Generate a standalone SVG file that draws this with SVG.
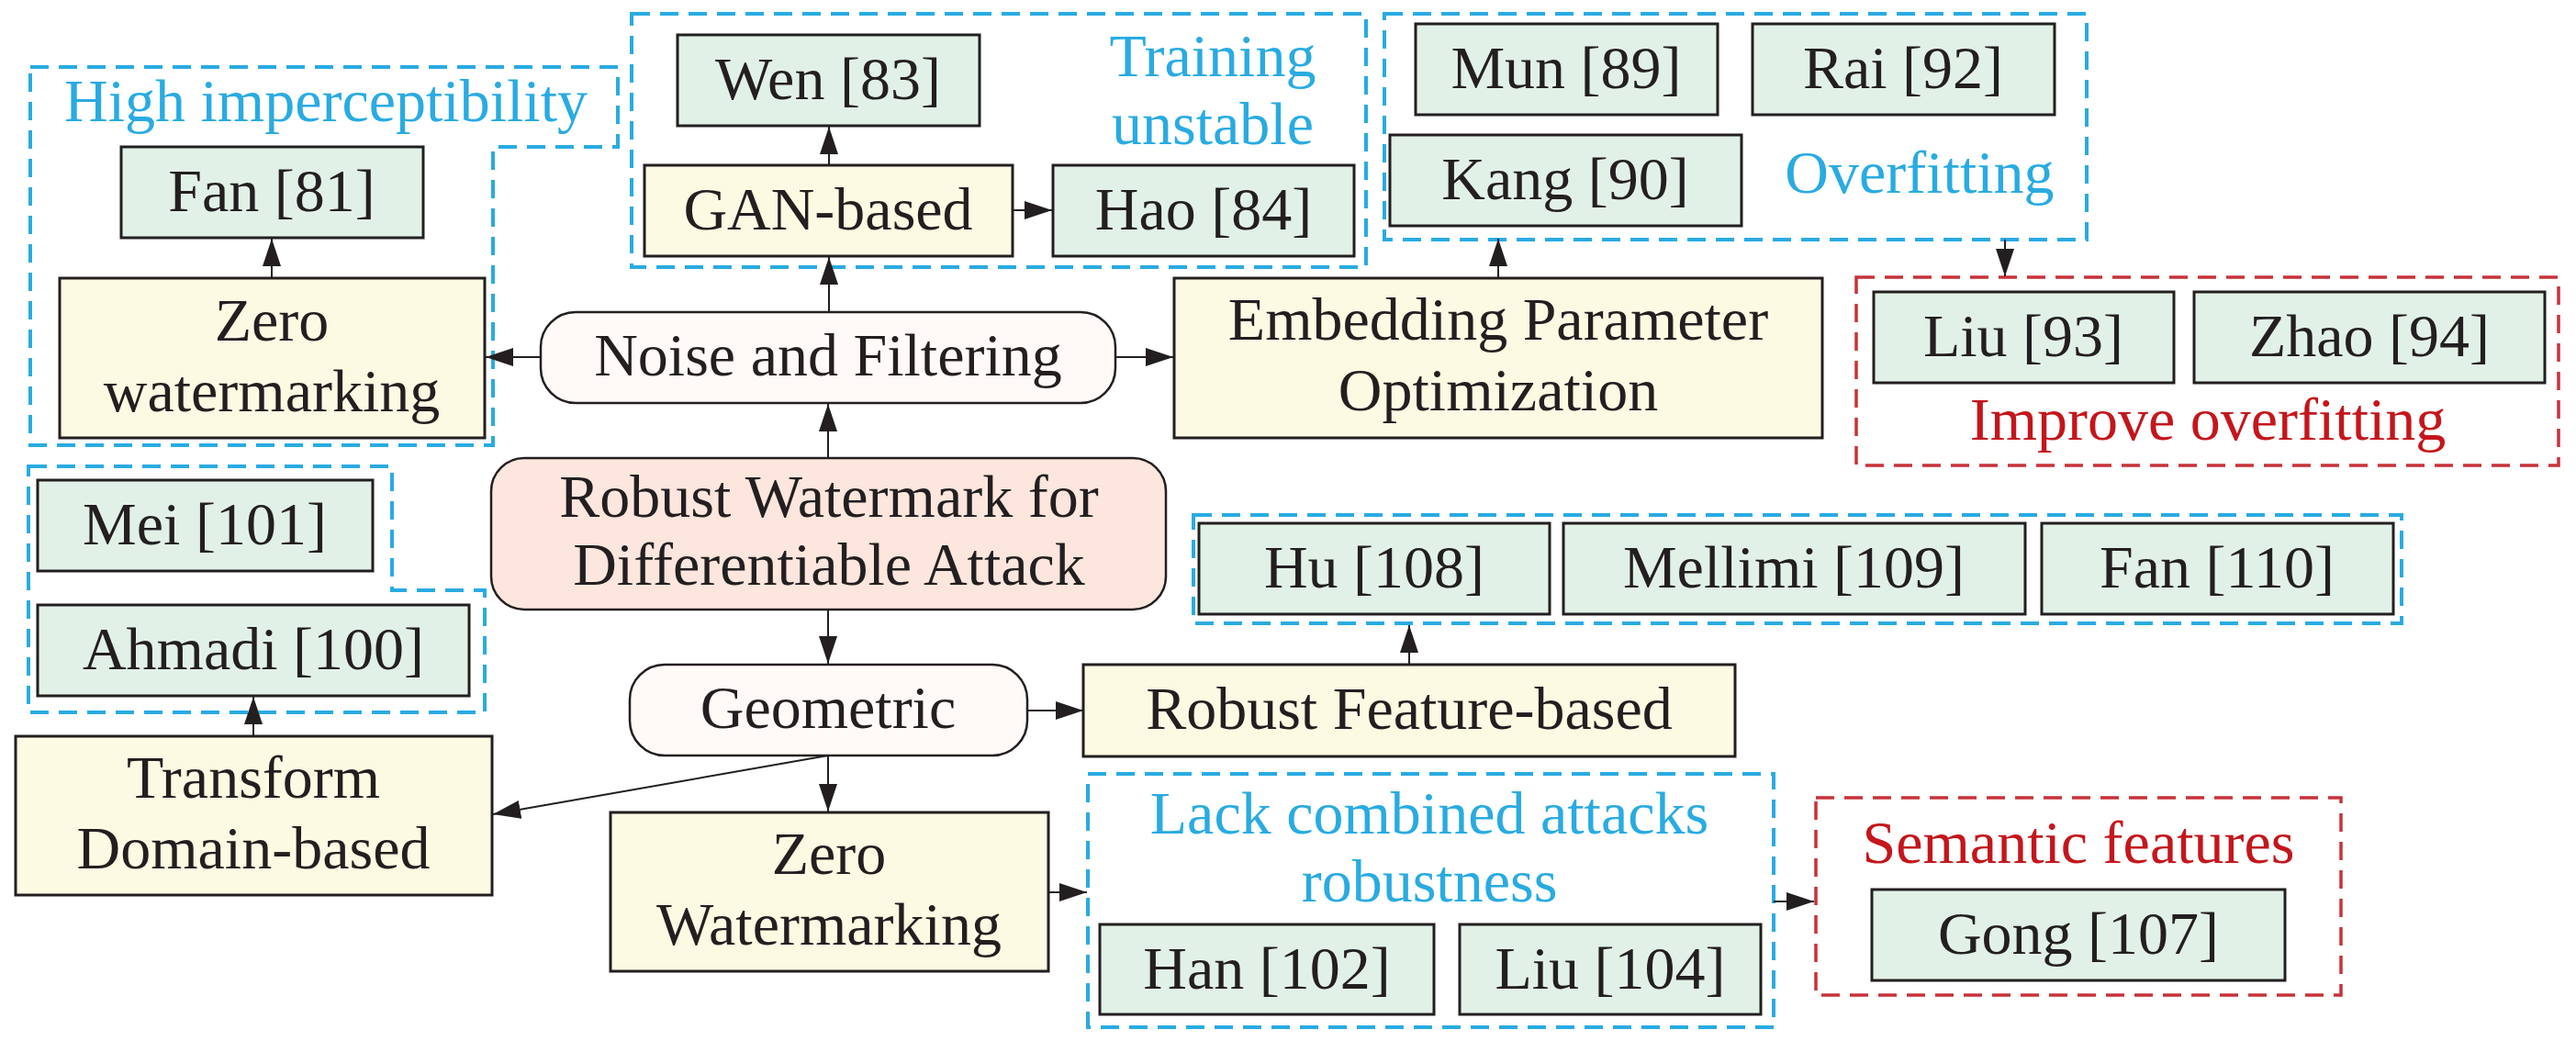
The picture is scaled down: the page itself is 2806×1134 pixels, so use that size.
<svg xmlns="http://www.w3.org/2000/svg" width="2806" height="1134" viewBox="0 0 2806 1134">
<style>
.t{font-family:"Liberation Serif","DejaVu Serif",serif;font-size:66px;fill:#231F20;text-anchor:middle}
.bt{fill:#29ABE2}
.rt{fill:#C4161C}
.g{fill:#E2F1E7;stroke:#231F20;stroke-width:3}
.y{fill:#FCFAE3;stroke:#231F20;stroke-width:3}
.p{fill:#FFFAF8;stroke:#231F20;stroke-width:2.5}
.s{fill:#FCE6DD;stroke:#231F20;stroke-width:2.5}
.bd{fill:none;stroke:#29ABE2;stroke-width:4;stroke-dasharray:20 11}
.rd{fill:none;stroke:#C8323A;stroke-width:3.5;stroke-dasharray:20 11}
.c{fill:none;stroke:#231F20;stroke-width:2;marker-end:url(#ah)}
</style>
<defs>
<marker id="ah" markerUnits="userSpaceOnUse" markerWidth="32" markerHeight="22" refX="30" refY="10" orient="auto">
<path d="M0,0 L30,10 L0,20 z" fill="#231F20"/>
</marker>
</defs>
<rect width="2806" height="1134" fill="#FFFFFF"/>

<g id="groups">
<polygon class="bd" points="33,73 673,73 673,160 537,160 537,485 33,485"/>
<text class="t bt" x="355" y="132">High imperceptibility</text>
<rect class="bd" x="688" y="15" width="800" height="276"/>
<text class="t bt" x="1321" y="83">Training</text>
<text class="t bt" x="1321" y="157">unstable</text>
<rect class="bd" x="1508" y="15" width="765" height="246"/>
<text class="t bt" x="2091" y="210">Overfitting</text>
<rect class="rd" x="2022" y="302" width="765" height="205"/>
<text class="t rt" x="2405" y="479">Improve overfitting</text>
<polygon class="bd" points="31,508 427,508 427,643 528,643 528,776 31,776"/>
<rect class="bd" x="1300" y="561" width="1316" height="118"/>
<rect class="bd" x="1185" y="843" width="747" height="276"/>
<text class="t bt" x="1557" y="908">Lack combined attacks</text>
<text class="t bt" x="1557" y="982">robustness</text>
<rect class="rd" x="1978" y="869" width="572" height="215"/>
<text class="t rt" x="2264" y="940">Semantic features</text>
</g>

<g id="connectors">
<line class="c" x1="296" y1="303" x2="296" y2="260"/>
<line class="c" x1="589" y1="389" x2="529" y2="389"/>
<line class="c" x1="1215" y1="389" x2="1278" y2="389"/>
<line class="c" x1="903" y1="340" x2="903" y2="280"/>
<line class="c" x1="903" y1="180" x2="903" y2="138"/>
<line class="c" x1="1103" y1="229" x2="1146" y2="229"/>
<line class="c" x1="1632" y1="303" x2="1632" y2="260"/>
<line class="c" x1="2184" y1="261" x2="2184" y2="301"/>
<line class="c" x1="902" y1="499" x2="902" y2="440"/>
<line class="c" x1="902" y1="664" x2="902" y2="723"/>
<line class="c" x1="1119" y1="774" x2="1180" y2="774"/>
<line class="c" x1="1535" y1="724" x2="1535" y2="681"/>
<line class="c" x1="902" y1="823" x2="537" y2="887"/>
<line class="c" x1="902" y1="823" x2="902" y2="884"/>
<line class="c" x1="276" y1="802" x2="276" y2="759"/>
<line class="c" x1="1142" y1="972" x2="1184" y2="972"/>
<line class="c" x1="1932" y1="982" x2="1976" y2="982"/>
</g>

<g id="fan81"><rect class="g" x="132" y="160" width="329" height="99"/><text class="t" x="296" y="230">Fan [81]</text></g>
<g id="zero1"><rect class="y" x="65" y="303" width="463" height="174"/><text class="t" x="296" y="371">Zero</text><text class="t" x="296" y="448">watermarking</text></g>
<g id="noise"><rect class="p" x="589" y="340" width="626" height="99" rx="38" ry="38"/><text class="t" x="902" y="409">Noise and Filtering</text></g>
<g id="wen83"><rect class="g" x="738" y="38" width="329" height="99"/><text class="t" x="902" y="108">Wen [83]</text></g>
<g id="gan"><rect class="y" x="702" y="180" width="401" height="99"/><text class="t" x="902" y="250">GAN-based</text></g>
<g id="hao84"><rect class="g" x="1147" y="180" width="328" height="99"/><text class="t" x="1311" y="250">Hao [84]</text></g>
<g id="mun89"><rect class="g" x="1542" y="26" width="329" height="99"/><text class="t" x="1706" y="96">Mun [89]</text></g>
<g id="rai92"><rect class="g" x="1909" y="26" width="329" height="99"/><text class="t" x="2073" y="96">Rai [92]</text></g>
<g id="kang90"><rect class="g" x="1514" y="147" width="383" height="99"/><text class="t" x="1705" y="217">Kang [90]</text></g>
<g id="embed"><rect class="y" x="1279" y="303" width="706" height="174"/><text class="t" x="1632" y="370">Embedding Parameter</text><text class="t" x="1632" y="447">Optimization</text></g>
<g id="liu93"><rect class="g" x="2041" y="318" width="327" height="99"/><text class="t" x="2204" y="388">Liu [93]</text></g>
<g id="zhao94"><rect class="g" x="2390" y="318" width="382" height="99"/><text class="t" x="2581" y="388">Zhao [94]</text></g>
<g id="mei101"><rect class="g" x="41" y="523" width="365" height="99"/><text class="t" x="223" y="593">Mei [101]</text></g>
<g id="ahmadi100"><rect class="g" x="41" y="659" width="470" height="99"/><text class="t" x="276" y="729">Ahmadi [100]</text></g>
<g id="robust"><rect class="s" x="535" y="499" width="735" height="165" rx="36" ry="36"/><text class="t" x="903" y="563">Robust Watermark for</text><text class="t" x="903" y="637">Differentiable Attack</text></g>
<g id="hu108"><rect class="g" x="1306" y="570" width="382" height="99"/><text class="t" x="1497" y="640">Hu [108]</text></g>
<g id="mellimi109"><rect class="g" x="1703" y="570" width="503" height="99"/><text class="t" x="1954" y="640">Mellimi [109]</text></g>
<g id="fan110"><rect class="g" x="2224" y="570" width="383" height="99"/><text class="t" x="2415" y="640">Fan [110]</text></g>
<g id="geometric"><rect class="p" x="686" y="724" width="433" height="99" rx="38" ry="38"/><text class="t" x="902" y="793">Geometric</text></g>
<g id="feature"><rect class="y" x="1180" y="724" width="710" height="100"/><text class="t" x="1535" y="794">Robust Feature-based</text></g>
<g id="transform"><rect class="y" x="17" y="802" width="519" height="173"/><text class="t" x="276" y="869">Transform</text><text class="t" x="276" y="946">Domain-based</text></g>
<g id="zero2"><rect class="y" x="665" y="885" width="477" height="173"/><text class="t" x="903" y="952">Zero</text><text class="t" x="903" y="1029">Watermarking</text></g>
<g id="han102"><rect class="g" x="1198" y="1007" width="364" height="98"/><text class="t" x="1380" y="1077">Han [102]</text></g>
<g id="liu104"><rect class="g" x="1590" y="1007" width="328" height="98"/><text class="t" x="1754" y="1077">Liu [104]</text></g>
<g id="gong107"><rect class="g" x="2039" y="969" width="450" height="99"/><text class="t" x="2264" y="1039">Gong [107]</text></g>
</svg>
